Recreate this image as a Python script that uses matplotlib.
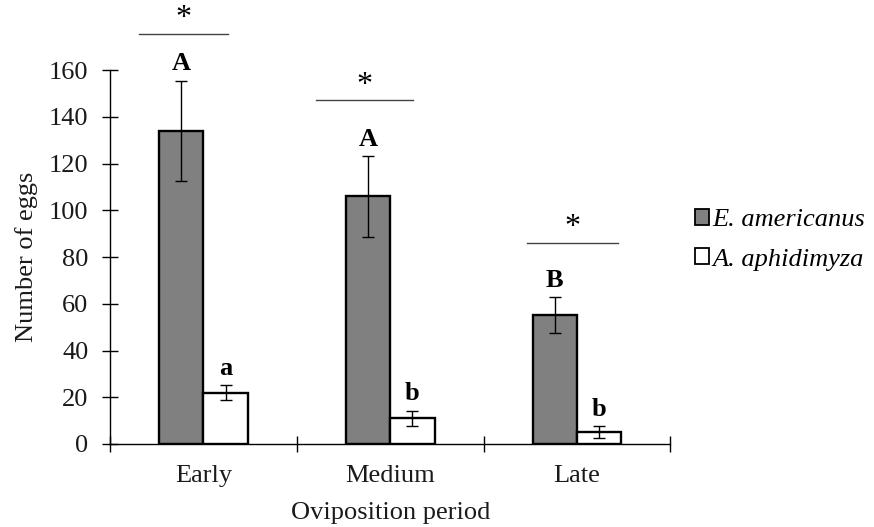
import numpy as np
import matplotlib
matplotlib.use('Agg')
import matplotlib.pyplot as plt
from matplotlib.patches import Patch

# Data
periods = ['Early', 'Medium', 'Late']
species = ['E. americanus', 'A. aphidimyza']

eggs_eam = [134, 106, 55]
err_eam = [21.5, 17.3, 7.7]
eggs_aph = [22, 11, 5]
err_aph = [3.2, 3.3, 2.5]

letters_eam = ['A', 'A', 'B']
letters_aph = ['a', 'b', 'b']

# significance bars: (x from, x to, y) in data units, asterisk above
sig_lines = [(-0.345, 0.13, 175.5), (0.60, 1.12, 147), (1.73, 2.22, 86)]

# Style
plt.rcParams['font.family'] = ['Liberation Serif', 'DejaVu Serif']
plt.rcParams['font.size'] = 19
text_color = '#1a1a1a'

fill_dark = '#808080'
width = 0.238

fig = plt.figure(figsize=(8.74, 5.27), dpi=100)
ax = fig.add_axes([0.126, 0.1575, 0.641, 0.7095])

x = np.arange(len(periods))

ax.bar(x - width / 2, eggs_eam, width, color=fill_dark, edgecolor='black',
       linewidth=1.7, label=species[0], zorder=2)
ax.bar(x + width / 2, eggs_aph, width, color='white', edgecolor='black',
       linewidth=1.7, label=species[1], zorder=2)

ax.errorbar(x - width / 2, eggs_eam, yerr=err_eam, fmt='none', ecolor='black',
            elinewidth=1, capsize=4.3, capthick=1, zorder=3)
ax.errorbar(x + width / 2, eggs_aph, yerr=err_aph, fmt='none', ecolor='black',
            elinewidth=1, capsize=4.3, capthick=1, zorder=3)

# letters above error bars
for i in range(len(periods)):
    ax.text(x[i] - width / 2, eggs_eam[i] + err_eam[i] + 2.2, letters_eam[i],
            ha='center', va='bottom', fontweight='bold', fontsize=19)
    ax.text(x[i] + width / 2, eggs_aph[i] + err_aph[i] + 2.2, letters_aph[i],
            ha='center', va='bottom', fontweight='bold', fontsize=19)

for x0, x1, y in sig_lines:
    ax.plot([x0, x1], [y, y], color='#444444', linewidth=1, clip_on=False)
    ax.text((x0 + x1) / 2, y + 0.3, '*', ha='center', va='bottom',
            fontsize=23, clip_on=False)

# Axes
ax.set_xlim(-0.5, 2.5)
ax.set_ylim(0, 160)
ax.set_yticks(np.arange(0, 161, 20))
ax.set_xticks(x)
ax.set_xticklabels(periods)
ax.set_xticks([-0.5, 0.5, 1.5, 2.5], minor=True)
ax.tick_params(axis='x', which='major', length=0, pad=15, labelcolor=text_color)
ax.tick_params(axis='x', which='minor', direction='inout', length=11, width=1)
ax.tick_params(axis='y', direction='inout', length=11, width=1, pad=10,
               labelcolor=text_color)

for side in ['top', 'right']:
    ax.spines[side].set_visible(False)
for side in ['left', 'bottom']:
    ax.spines[side].set_linewidth(1)

ax.set_ylabel('Number of eggs', labelpad=8, color=text_color)
ax.set_xlabel('Oviposition period', labelpad=11, color=text_color)

handles = [Patch(facecolor=fill_dark, edgecolor='black', linewidth=1.3),
           Patch(facecolor='white', edgecolor='black', linewidth=1.3)]
fig.legend(handles, species, loc='center left', bbox_to_anchor=(0.768, 0.545),
           frameon=False, handlelength=0.55, handleheight=0.55,
           handletextpad=0.12, labelspacing=0.65,
           prop={'style': 'italic', 'size': 19})

fig.savefig('out.png', dpi=100)
